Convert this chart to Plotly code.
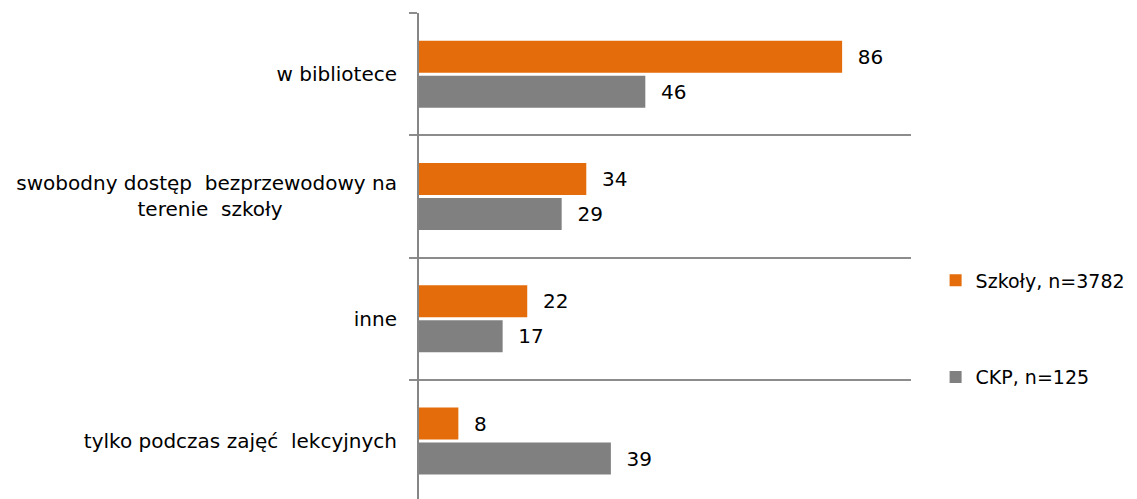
import plotly.graph_objects as go

NB = "\u00a0"
categories = [
    "w bibliotece",
    "swobodny dostęp" + NB + NB + "bezprzewodowy na<br>terenie" + NB + NB + "szkoły" + NB * 18,
    "inne",
    "tylko podczas zajęć" + NB + NB + "lekcyjnych",
]
szkoly = [86, 34, 22, 8]
ckp = [46, 29, 17, 39]
series_names = ["Szkoły, n=3782", "CKP, n=125"]
colors = ["#E46C0A", "#808080"]

FONT = "DejaVu Sans"
fig = go.Figure()
for name, vals, col in zip(series_names, [szkoly, ckp], colors):
    fig.add_trace(go.Bar(
        y=categories, x=vals, orientation="h", name=name,
        marker=dict(color=col, line=dict(width=0)),
        text=vals, texttemplate=NB + NB + "%{x}", textposition="outside",
        textfont=dict(family=FONT, size=20, color="#000000"),
        constraintext="none", cliponaxis=False,
        legendgroup=name,
    ))

# page body has an 8px default margin, so the figure is offset by (8, 8)
fig.update_layout(
    width=1129, height=491,
    margin=dict(l=411, r=226, t=5, b=0, autoexpand=False),
    paper_bgcolor="white", plot_bgcolor="white",
    barmode="group", bargap=0.428, bargroupgap=0.0857,
    font=dict(family=FONT, size=20, color="#000000"),
    showlegend=True,
    legend=dict(x=1.05, xanchor="left", y=0.35, yanchor="middle",
                traceorder="grouped", tracegroupgap=69,
                font=dict(family=FONT, size=19, color="#000000"),
                itemwidth=30, bgcolor="rgba(0,0,0,0)"),
)
fig.update_xaxes(range=[0, 100], showgrid=False, zeroline=False,
                 showticklabels=False, showline=False, ticks="",
                 automargin=False)
fig.update_yaxes(type="category", range=[3.474, -0.5],
                 tickson="boundaries", ticks="outside", ticklen=8,
                 tickcolor="#8c8c8c", tickwidth=1.5,
                 showgrid=True, gridcolor="#8c8c8c", gridwidth=1.5,
                 showline=True, linecolor="#868686", linewidth=2,
                 ticklabelstandoff=16, automargin=False,
                 tickfont=dict(family=FONT, size=20, color="#000000"))

fig.write_html("out.html")
